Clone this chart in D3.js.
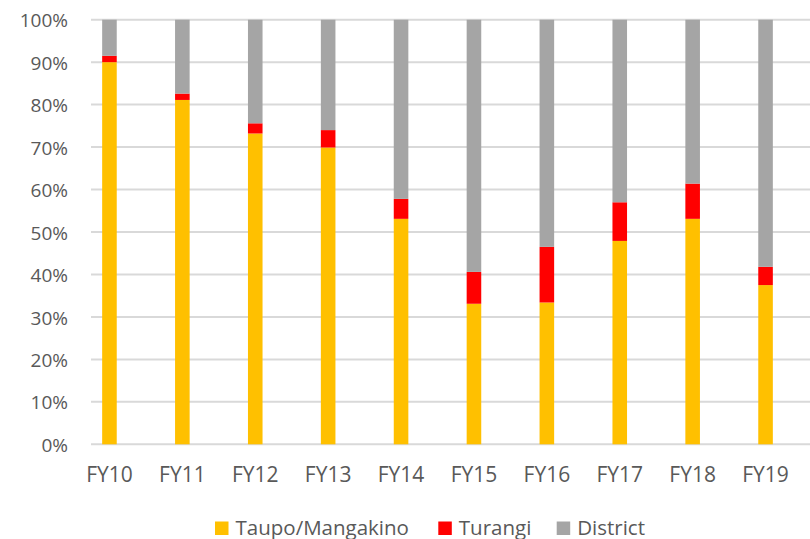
<!DOCTYPE html>
<html>
<head>
<meta charset="utf-8">
<script src="https://cdn.jsdelivr.net/npm/d3@7"></script>
<style>
  html, body { margin: 0; padding: 0; background: #fff; }
  svg { display: block; font-family: "Open Sans", "Noto Sans", sans-serif; }
</style>
</head>
<body>
<svg id="chart" width="810" height="539"></svg>
<script>
// Share of total by area, financial years FY10–FY19 (percent)
const years = ["FY10", "FY11", "FY12", "FY13", "FY14", "FY15", "FY16", "FY17", "FY18", "FY19"];
const taupoMangakino = [90.0, 81.1, 73.2, 69.9, 53.1, 33.1, 33.4, 47.9, 53.1, 37.5];
const turangi        = [1.5, 1.5, 2.4, 4.1, 4.7, 7.5, 13.1, 9.1, 8.3, 4.3];
const district       = years.map((_, i) => +(100 - taupoMangakino[i] - turangi[i]).toFixed(1));
const seriesNames = ["Taupo/Mangakino", "Turangi", "District"];
const seriesColors = ["#FFC000", "#FF0000", "#A5A5A5"];
const yTicks = [0, 10, 20, 30, 40, 50, 60, 70, 80, 90, 100];

const rows = years.map((yr, i) => ({
  year: yr,
  "Taupo/Mangakino": taupoMangakino[i],
  "Turangi": turangi[i],
  "District": district[i]
}));

const svg = d3.select("#chart");
const plotLeft = 91, plotRight = 810;
const textColor = "#595959";

const x = d3.scaleBand().domain(years).range([73, 802]).padding(0);
const y = d3.scaleLinear().domain([0, 100]).range([444.3, 19.7]);
const barW = x.bandwidth() * 0.2;

// gridlines
svg.append("g")
  .selectAll("line")
  .data(yTicks)
  .join("line")
  .attr("x1", plotLeft).attr("x2", plotRight)
  .attr("y1", d => y(d)).attr("y2", d => y(d))
  .attr("stroke", "#D9D9D9").attr("stroke-width", 2);

// y axis labels
const yAxis = d3.axisLeft(y).tickValues(yTicks).tickFormat(d => d + "%").tickSize(0).tickPadding(0);
const gy = svg.append("g").attr("transform", "translate(68,1)").call(yAxis);
gy.select(".domain").remove();
gy.selectAll("text")
  .attr("fill", textColor).style("font-size", "19px")
  .style("font-family", "'Open Sans', sans-serif");

// stacked bars
const stack = d3.stack().keys(seriesNames);
const layers = stack(rows);
svg.append("g")
  .selectAll("g")
  .data(layers)
  .join("g")
  .attr("fill", (d, i) => seriesColors[i])
  .selectAll("rect")
  .data(d => d)
  .join("rect")
  .attr("x", d => x(d.data.year) + (x.bandwidth() - barW) / 2)
  .attr("width", barW)
  .attr("y", d => y(d[1]))
  .attr("height", d => y(d[0]) - y(d[1]));

// x axis labels
const xAxis = d3.axisBottom(x).tickSize(0).tickPadding(0);
const gx = svg.append("g").attr("transform", "translate(0,467)").call(xAxis);
gx.select(".domain").remove();
gx.selectAll("text")
  .attr("fill", textColor).style("font-size", "21px")
  .style("font-family", "'Open Sans', sans-serif");

// legend
const legendX = [215, 438.3, 556.7];
const legend = svg.append("g");
seriesNames.forEach((name, i) => {
  legend.append("rect")
    .attr("x", legendX[i]).attr("y", 521.5)
    .attr("width", 13.5).attr("height", 13.5)
    .attr("fill", seriesColors[i]);
  legend.append("text")
    .attr("x", legendX[i] + 20.5).attr("y", 534.5)
    .attr("fill", textColor).style("font-size", "20.5px")
    .text(name);
});
</script>
</body>
</html>
